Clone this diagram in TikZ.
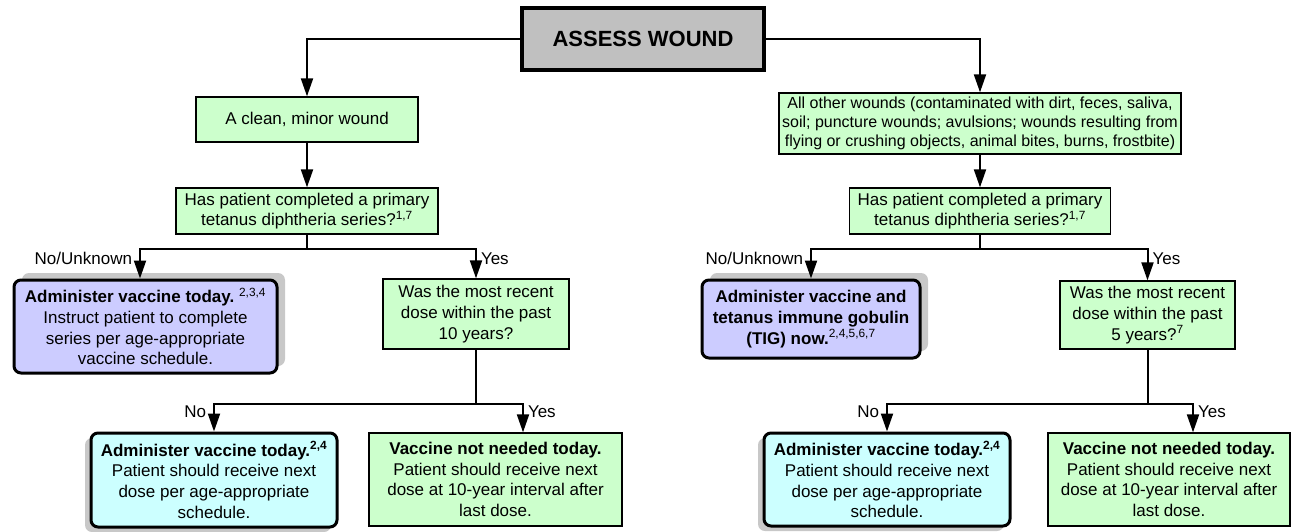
\documentclass[tikz,border=0pt]{standalone}
\usepackage{fontspec}
\setmainfont{Liberation Sans}
\usetikzlibrary{arrows.meta,shadows}

\definecolor{stepgreen}{HTML}{CCFFCC}
\definecolor{actpurple}{HTML}{CCCCFF}
\definecolor{actcyan}{HTML}{CCFFFF}
\definecolor{headgray}{HTML}{C0C0C0}
\definecolor{shadowgray}{HTML}{C8C8C8}

\begin{document}
\begin{tikzpicture}[x=1pt, y=-1pt,
    wire/.style={line width=2pt},
    arr/.style={wire, -{Triangle[length=18pt,width=12pt]}},
    txt/.style={font=\fontsize{17}{20.7}\selectfont, align=center, inner sep=2pt},
    greenbox/.style={txt, draw, line width=1.3pt, fill=stepgreen},
    actbox/.style={txt, draw, line width=3pt, rounded corners=7pt},
    purpleshadow/.style={drop shadow={shadow xshift=8pt, shadow yshift=7pt, fill=shadowgray, opacity=1}},
    cyanshadow/.style={drop shadow={shadow xshift=-6pt, shadow yshift=-5pt, fill=shadowgray, opacity=1}},
    lab/.style={font=\fontsize{17}{20}\selectfont, inner sep=1pt}]
    \useasboundingbox (0,0) rectangle (1294,531);
    % Boxes:
    \node[draw, line width=3.5pt, fill=headgray, font=\fontsize{22}{26}\bfseries,
          minimum width=242pt, minimum height=62pt] (assess) at (643,39) {ASSESS WOUND};
    \node[greenbox, minimum width=222pt, minimum height=45pt] (clean) at (307,119.5) {A clean, minor wound};
    \node[greenbox, font=\fontsize{16}{19.3}\selectfont, minimum width=402pt, minimum height=61pt] (other) at (980,123.5)
        {All other wounds (contaminated with dirt, feces, saliva,\\ soil; puncture wounds; avulsions; wounds resulting from\\ flying or crushing objects, animal bites, burns, frostbite)};
    \node[greenbox, minimum width=262pt, minimum height=46pt] (hasL) at (307,211)
        {Has patient completed a primary\\ tetanus diphtheria series?\textsuperscript{1,7}};
    \node[greenbox, minimum width=261pt, minimum height=46pt] (hasR) at (980,211)
        {Has patient completed a primary\\ tetanus diphtheria series?\textsuperscript{1,7}};
    \node[actbox, fill=actpurple, purpleshadow, minimum width=263pt, minimum height=93pt] (adminL) at (145.5,326.5)
        {\textbf{Administer vaccine today.}\ \textsuperscript{2,3,4}\\ Instruct patient to complete\\ series per age-appropriate\\ vaccine schedule.};
    \node[greenbox, minimum width=186pt, minimum height=70pt] (wasL) at (476,314)
        {Was the most recent\\ dose within the past\\ 10 years?};
    \node[actbox, fill=actpurple, purpleshadow, minimum width=218pt, minimum height=78pt] (tigR) at (811,319)
        {\textbf{Administer vaccine and}\\ \textbf{tetanus immune gobulin}\\ \textbf{(TIG) now.}\textsuperscript{2,4,5,6,7}};
    \node[greenbox, minimum width=175pt, minimum height=68pt] (wasR) at (1147.5,315)
        {Was the most recent\\ dose within the past\\ 5 years?\textsuperscript{7}};
    \node[actbox, fill=actcyan, cyanshadow, minimum width=246pt, minimum height=94pt] (cyanL) at (214,480)
        {\textbf{Administer vaccine today.\textsuperscript{2,4}}\\ Patient should receive next\\ dose per age-appropriate\\ schedule.};
    \node[greenbox, minimum width=253pt, minimum height=93pt] (okL) at (495.5,479.5)
        {\textbf{Vaccine not needed today.}\\ Patient should receive next\\ dose at 10-year interval after\\ last dose.};
    \node[actbox, fill=actcyan, cyanshadow, minimum width=246pt, minimum height=93pt] (cyanR) at (887,479.5)
        {\textbf{Administer vaccine today.\textsuperscript{2,4}}\\ Patient should receive next\\ dose per age-appropriate\\ schedule.};
    \node[greenbox, minimum width=242pt, minimum height=93pt] (okR) at (1169,479.5)
        {\textbf{Vaccine not needed today.}\\ Patient should receive next\\ dose at 10-year interval after\\ last dose.};
    % Wires:
    \draw[arr] (assess.west) -| (clean.north);
    \draw[arr] (assess.east) -| (other.north);
    \draw[arr] (clean) -- (hasL);
    \draw[arr] (other) -- (hasR);
    \draw[wire] (hasL.south) -- ++(0,14) coordinate (splitL);
    \draw[arr] (splitL) -| ([xshift=-5.5pt]adminL.north) node[lab, pos=0.5, anchor=north east, xshift=-6pt, yshift=-2pt] {No/Unknown};
    \draw[arr] (splitL) -| (wasL.north) node[lab, pos=0.5, anchor=north west, xshift=3pt, yshift=-2pt] {Yes};
    \draw[wire] (hasR.south) -- ++(0,14) coordinate (splitR);
    \draw[arr] (splitR) -| (tigR.north) node[lab, pos=0.5, anchor=north east, xshift=-6pt, yshift=-2pt] {No/Unknown};
    \draw[arr] (splitR) -| (wasR.north) node[lab, pos=0.5, anchor=north west, xshift=3pt, yshift=-2pt] {Yes};
    \draw[wire] (wasL.south) -- ++(0,54) coordinate (splitL2);
    \draw[arr] (splitL2) -| (cyanL.north) node[lab, pos=0.5, anchor=north east, xshift=-6pt] {No};
    \draw[arr] (splitL2) -| ([xshift=27.5pt]okL.north) node[lab, pos=0.5, anchor=north west, xshift=3pt] {Yes};
    \draw[wire] (wasR.south) -- ++(0,54) coordinate (splitR2);
    \draw[arr] (splitR2) -| (cyanR.north) node[lab, pos=0.5, anchor=north east, xshift=-6pt] {No};
    \draw[arr] (splitR2) -| ([xshift=24pt]okR.north) node[lab, pos=0.5, anchor=north west, xshift=3pt] {Yes};
\end{tikzpicture}
\end{document}
